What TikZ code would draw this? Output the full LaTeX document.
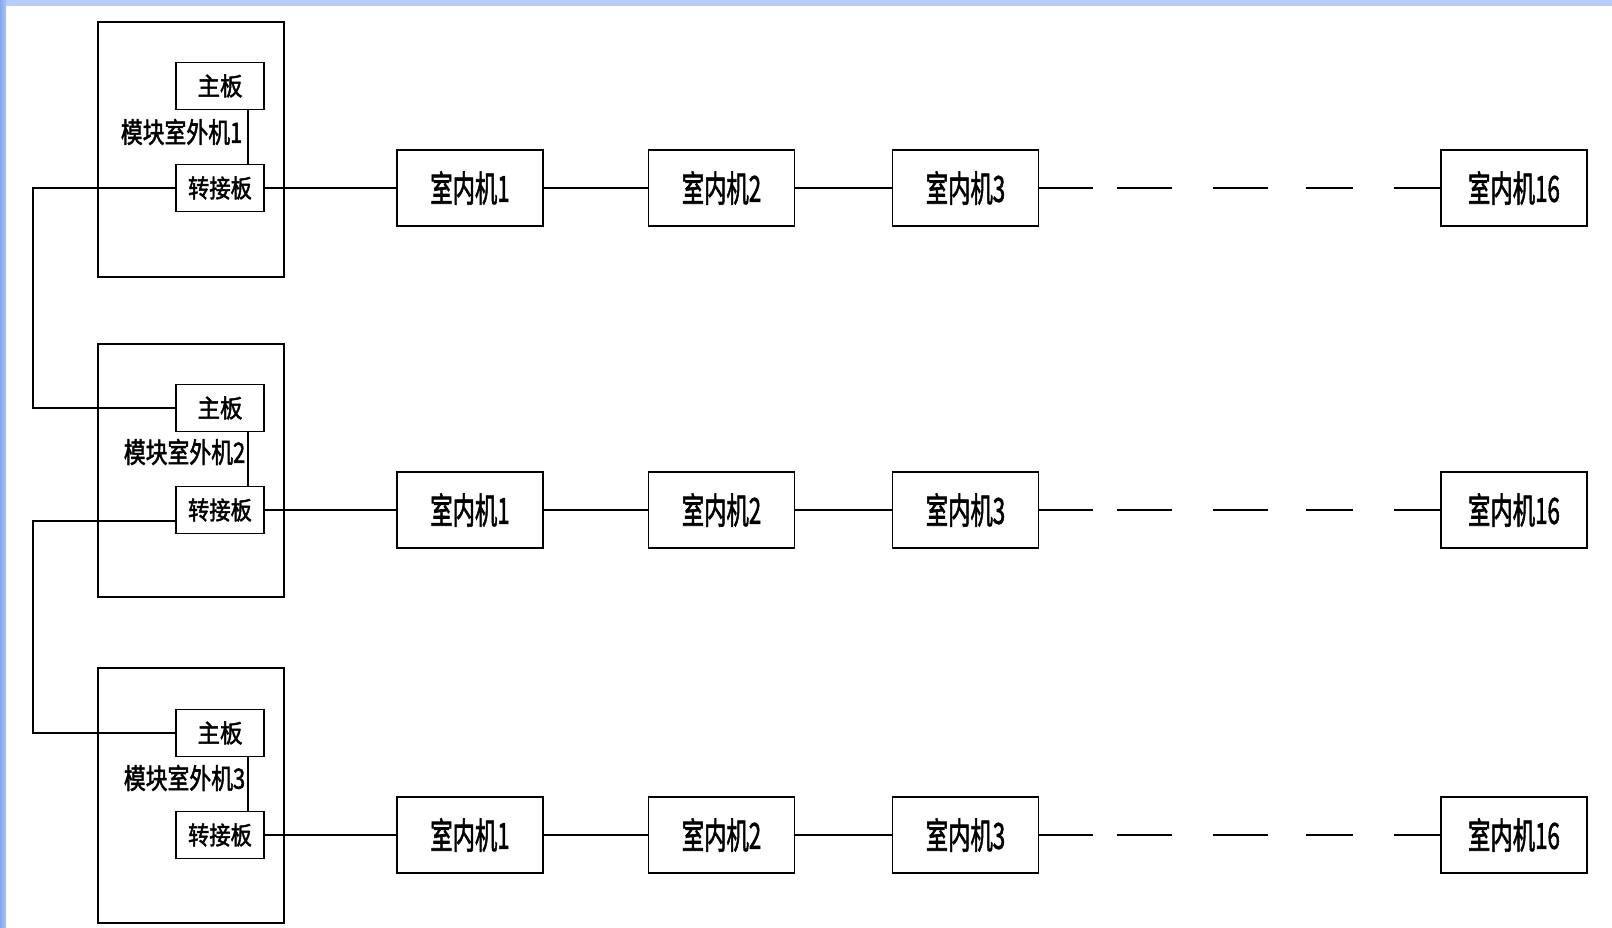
\documentclass[tikz,border=0pt]{standalone}
\usepackage{fontspec}
\usepackage{graphicx}
\newfontfamily\cjk{Noto Sans CJK SC}[FakeBold=2]
\newcommand{\nx}[2]{\scalebox{#1}[1]{#2}}
\definecolor{topblue}{RGB}{184,206,250}
\definecolor{leftblue}{RGB}{132,168,238}
\definecolor{leftblueb}{RGB}{170,196,245}
\begin{document}
\begin{tikzpicture}[x=1pt,y=-1pt,line width=1.6pt,
  unitbox/.style={draw,minimum width=186pt,inner sep=0pt,outer sep=0pt},
  board/.style={draw,fill=white,minimum width=88pt,minimum height=47pt,inner sep=0pt,outer sep=0pt,font=\cjk\fontsize{25}{25}\selectfont},
  indoor/.style={draw,fill=white,minimum width=146pt,minimum height=76pt,inner sep=0pt,outer sep=0pt,font=\cjk\fontsize{36}{36}\selectfont},
  unitlabel/.style={inner sep=0pt,anchor=east,font=\cjk\fontsize{28}{28}\selectfont},
  wire/.style={draw,line width=1.6pt},
  dashwire/.style={draw,line width=1.6pt,dash pattern=on 54pt off 24pt on 55pt off 41pt on 55pt off 38pt on 47pt off 41pt on 46pt off 10pt}]
\useasboundingbox (0,0) rectangle (1612,928);
\fill[white] (0,0) rectangle (1612,928);
\fill[topblue] (0,0) rectangle (1612,6);
\fill[left color=leftblue,right color=leftblueb,draw=none] (0,0) rectangle (6,928);

% outdoor unit boxes
\node[unitbox,minimum height=255pt] (u1) at (191,149.5) {};
\node[unitbox,minimum height=253pt] (u2) at (191,470.5) {};
\node[unitbox,minimum height=255pt] (u3) at (191,795.5) {};

% boards
\node[board] (m1) at (220,86) {\nx{0.9}{主板}};
\node[board] (j1) at (220,188) {\nx{0.85}{转接板}};
\node[board] (m2) at (220,408) {\nx{0.9}{主板}};
\node[board] (j2) at (220,510) {\nx{0.85}{转接板}};
\node[board] (m3) at (220,733) {\nx{0.9}{主板}};
\node[board] (j3) at (220,835) {\nx{0.85}{转接板}};

% unit labels
\node[unitlabel] (l1) at (243,132) {\nx{0.78}{模块室外机1}};
\node[unitlabel] (l2) at (246,452) {\nx{0.78}{模块室外机2}};
\node[unitlabel] (l3) at (246,778) {\nx{0.78}{模块室外机3}};

% internal links
\foreach \i in {1,2,3}{
  \draw ([xshift=-16pt]m\i.south east) -- ([xshift=-16pt]j\i.north east);
}

% indoor units
\foreach \i/\y in {1/188,2/510,3/835}{
  \node[indoor] (a\i) at (470,\y) {\nx{0.62}{室内机1}};
  \node[indoor] (b\i) at (721.5,\y) {\nx{0.62}{室内机2}};
  \node[indoor] (c\i) at (965.5,\y) {\nx{0.62}{室内机3}};
  \node[indoor] (d\i) at (1514,\y) {\nx{0.62}{室内机16}};
  \draw[wire] (j\i.east) -- (a\i.west);
  \draw[wire] (a\i.east) -- (b\i.west);
  \draw[wire] (b\i.east) -- (c\i.west);
  \draw[dashwire] (c\i.east) -- (d\i.west);
}

% bus between outdoor units
\coordinate (bus) at (33,0);
\draw[wire] (j1.west) -- (j1.west -| bus) -- (bus |- m2.west) -- (m2.west);
\draw[wire] ([yshift=-11pt]j2.west) -- ([yshift=-11pt]j2.west -| bus) -- (bus |- m3.west) -- (m3.west);
\end{tikzpicture}
\end{document}
